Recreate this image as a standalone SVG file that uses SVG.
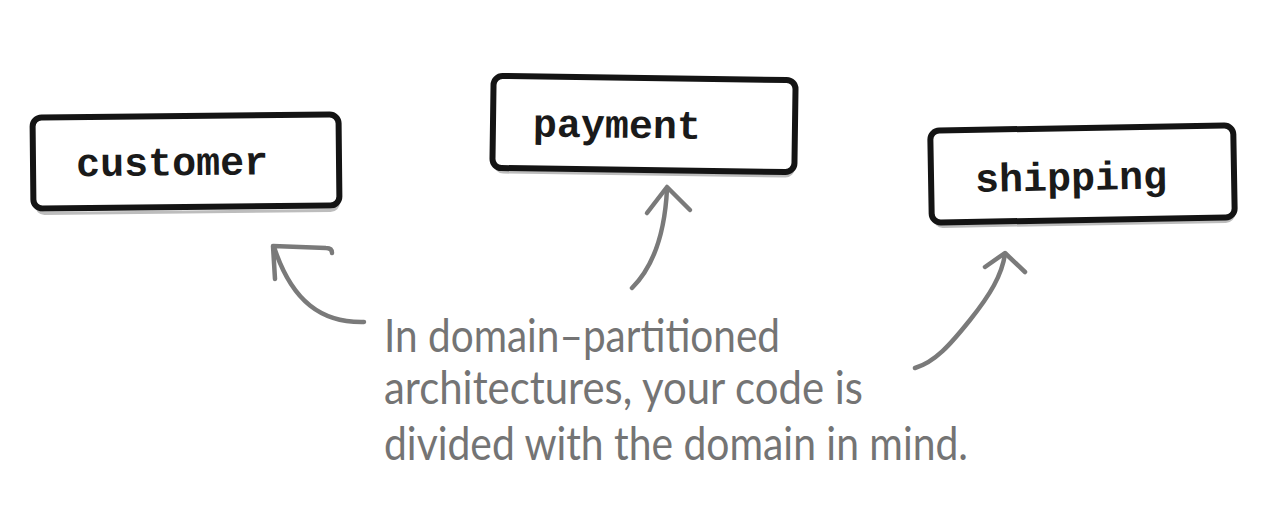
<svg xmlns="http://www.w3.org/2000/svg" width="1270" height="532" viewBox="0 0 1270 532">
<style>
.box{fill:#ffffff;stroke:#141414;stroke-width:6;stroke-linejoin:round}
.shadow{fill:none;stroke:#bdbdbd;stroke-width:3}
.lbl{font-family:"Liberation Mono","Courier New",monospace;font-weight:bold;font-size:40px;fill:#1a1a1a}
.arrow{fill:none;stroke:#7a7a7a;stroke-width:4.5;stroke-linecap:round;stroke-linejoin:round}
.note{font-family:"Lato","Liberation Sans",sans-serif;font-size:46px;fill:#747474}
</style>
<rect width="1270" height="532" fill="#ffffff"/>
<g id="customer" transform="rotate(-0.6 186 162)">
<rect class="shadow" x="36" y="122" width="302" height="90" rx="8"/>
<rect class="box" x="33" y="116" width="306" height="91" rx="9"/>
<text class="lbl" x="76" y="175">customer</text>
</g>
<g id="payment" transform="rotate(0.8 644 124)">
<rect class="shadow" x="496" y="84" width="298" height="90" rx="8"/>
<rect class="box" x="493" y="78" width="302" height="92" rx="9"/>
<text class="lbl" x="533" y="138">payment</text>
</g>
<g id="shipping" transform="rotate(-1 1082 174)">
<rect class="shadow" x="934" y="134" width="299" height="90" rx="8"/>
<rect class="box" x="931" y="128" width="303" height="92" rx="9"/>
<text class="lbl" x="975" y="190">shipping</text>
</g>
<g id="connectors">
<path class="arrow" d="M364,322 C322,323 292,302 274,247"/>
<path class="arrow" d="M275,279 L273,246 L326,248 C330,248 332,250 332,253"/>
<path class="arrow" d="M632,288 C655,265 665,230 667,189"/>
<path class="arrow" d="M647,213 L667,187 L690,210"/>
<path class="arrow" d="M915,368 C935,362 950,345 970,320 C990,295 1002,275 1005,254"/>
<path class="arrow" d="M985,267 L1005,253 L1025,272"/>
</g>
<g id="note">
<text class="note" x="384" y="352" textLength="396" lengthAdjust="spacingAndGlyphs">In domain–partitioned</text>
<text class="note" x="384" y="404" textLength="479" lengthAdjust="spacingAndGlyphs">architectures, your code is</text>
<text class="note" x="384" y="460" textLength="584" lengthAdjust="spacingAndGlyphs">divided with the domain in mind.</text>
</g>
</svg>
